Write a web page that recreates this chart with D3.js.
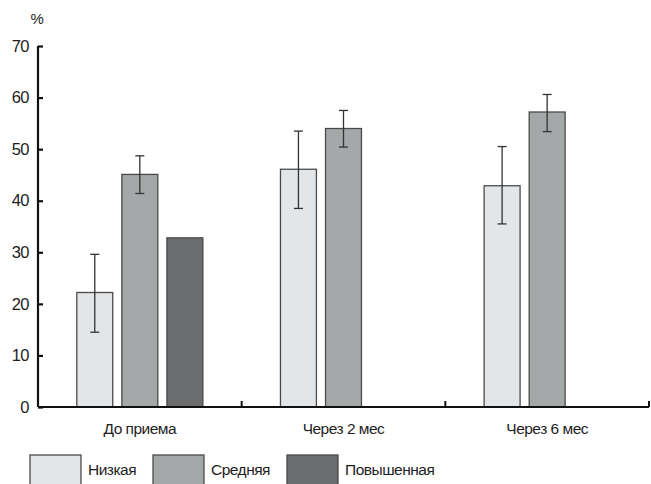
<!DOCTYPE html>
<html>
<head>
<meta charset="utf-8">
<script src="https://cdn.jsdelivr.net/npm/d3@7"></script>
<style>
  body { margin: 0; background: #fff; }
  text { font-family: "Liberation Sans", Arial, sans-serif; fill: #1e1e1e; letter-spacing: -0.5px; }
</style>
</head>
<body>
<svg width="651" height="484"></svg>
<script>
// data
var groups = ["До приема", "Через 2 мес", "Через 6 мес"];
var levels = ["Низкая", "Средняя", "Повышенная"];
var lowVals = [22.2, 46.1, 42.9];
var lowErr = [[14.5, 29.6], [38.5, 53.5], [35.5, 50.5]];
var midVals = [45.1, 54.0, 57.2];
var midErr = [[41.4, 48.7], [50.4, 57.5], [53.4, 60.6]];
var highVals = [32.8, null, null];
var yTicks = [0, 10, 20, 30, 40, 50, 60, 70];

var colors = ["#e3e6e8", "#a5a8a9", "#6a6c6d"];

var svg = d3.select("svg"),
    mLeft = 38, mRight = 649, mTop = 46, mBottom = 407;

var x = d3.scaleBand().domain(groups).range([mLeft, mRight]).padding(0);
var inner = d3.scaleBand().domain(levels).range([0, x.bandwidth()]).paddingInner(0.18).paddingOuter(0.85);
var y = d3.scaleLinear().domain([0, 70]).range([mBottom, mTop]);

var series = [
  {name: levels[0], vals: lowVals, err: lowErr},
  {name: levels[1], vals: midVals, err: midErr},
  {name: levels[2], vals: highVals, err: null}
];

// bars
series.forEach(function(s, si) {
  var g = svg.append("g");
  var data = groups.map(function(gr, i) { return {g: gr, v: s.vals[i], e: s.err ? s.err[i] : null}; })
    .filter(function(d) { return d.v != null; });
  g.selectAll("rect").data(data).enter().append("rect")
    .attr("x", function(d) { return x(d.g) + inner(s.name) + 0.5; })
    .attr("y", function(d) { return y(d.v); })
    .attr("width", inner.bandwidth() - 1)
    .attr("height", function(d) { return y(0) - y(d.v); })
    .attr("fill", colors[si])
    .attr("stroke", "#4a4a4a")
    .attr("stroke-width", 1.3);

  // error bars
  var eb = data.filter(function(d) { return d.e; });
  var cx = function(d) { return x(d.g) + inner(s.name) + inner.bandwidth() / 2; };
  g.selectAll("line.v").data(eb).enter().append("line")
    .attr("x1", cx).attr("x2", cx)
    .attr("y1", function(d) { return y(d.e[0]); })
    .attr("y2", function(d) { return y(d.e[1]); })
    .attr("stroke", "#333").attr("stroke-width", 1.3);
  [0, 1].forEach(function(k) {
    g.selectAll("line.c" + k).data(eb).enter().append("line")
      .attr("x1", function(d) { return cx(d) - 4.5; })
      .attr("x2", function(d) { return cx(d) + 4.5; })
      .attr("y1", function(d) { return y(d.e[k]); })
      .attr("y2", function(d) { return y(d.e[k]); })
      .attr("stroke", "#333").attr("stroke-width", 1.3);
  });
});

// y axis
var yAxis = d3.axisLeft(y).tickValues(yTicks).tickSize(-5).tickPadding(9);
var ya = svg.append("g").attr("transform", "translate(" + mLeft + ",0)").call(yAxis);
ya.select(".domain").attr("stroke", "#111").attr("stroke-width", 2.2).attr("d", "M0," + y(70) + "V" + y(0));
ya.selectAll(".tick line").attr("stroke", "#111").attr("stroke-width", 2.2);
ya.selectAll(".tick text").attr("font-size", 16.5).attr("fill", "#1e1e1e")
  .style("font-family", '"Liberation Sans", Arial, sans-serif');

// x axis
var xa = svg.append("g").attr("transform", "translate(0," + mBottom + ")");
xa.append("line").attr("x1", mLeft).attr("x2", mRight).attr("y1", 0).attr("y2", 0)
  .attr("stroke", "#111").attr("stroke-width", 2.2);
xa.selectAll("line.t").data(groups.slice(1).concat(["end"])).enter().append("line")
  .attr("x1", function(d) { return d == "end" ? mRight : x(d); })
  .attr("x2", function(d) { return d == "end" ? mRight : x(d); })
  .attr("y1", 0).attr("y2", -6)
  .attr("stroke", "#111").attr("stroke-width", 2);
xa.selectAll("text").data(groups).enter().append("text")
  .attr("x", function(d) { return x(d) + x.bandwidth() / 2; })
  .attr("y", 27)
  .attr("text-anchor", "middle")
  .attr("font-size", 15.5)
  .text(function(d) { return d; });

svg.append("text").attr("x", 37).attr("y", 24).attr("text-anchor", "middle")
  .attr("font-size", 15).text("%");

// legend
var legX = [30, 153, 287];
var leg = svg.selectAll("g.leg").data(levels).enter().append("g")
  .attr("transform", function(d, i) { return "translate(" + legX[i] + ",455)"; });
leg.append("rect").attr("width", 51).attr("height", 30)
  .attr("fill", function(d, i) { return colors[i]; })
  .attr("stroke", "#4a4a4a").attr("stroke-width", 1.3);
leg.append("text").attr("x", 58).attr("y", 20).attr("font-size", 15.5)
  .text(function(d) { return d; });
</script>
</body>
</html>
